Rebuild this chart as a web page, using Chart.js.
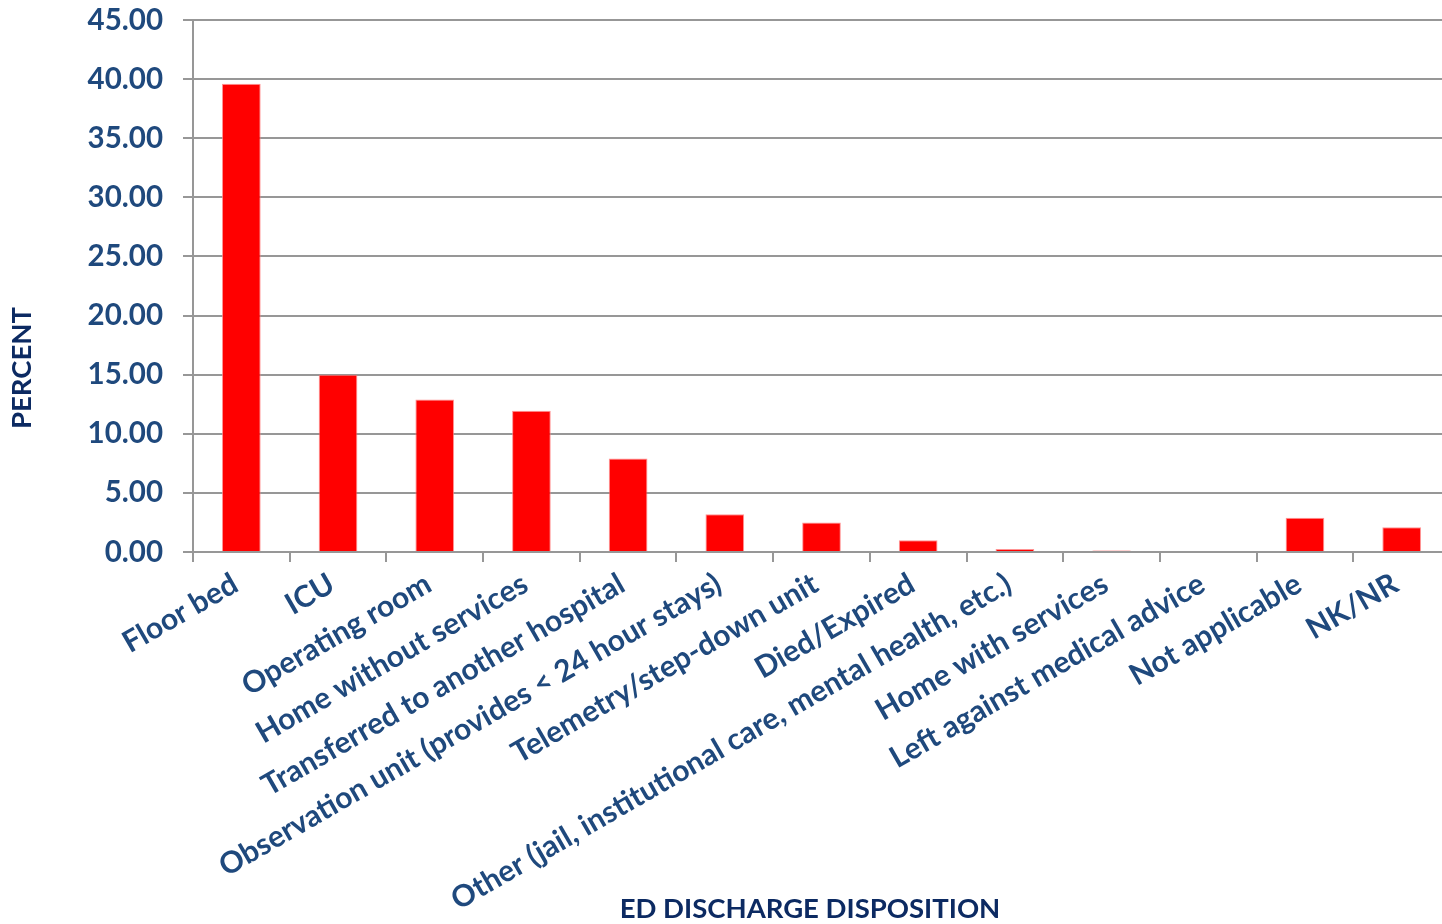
<!DOCTYPE html>
<html>
<head>
<meta charset="utf-8">
<title>ED Discharge Disposition</title>
<script src="https://cdn.jsdelivr.net/npm/chart.js@4.4.1/dist/chart.umd.min.js"></script>
<style>
  html, body { margin: 0; padding: 0; background: #fff; overflow: hidden; }
  #wrap { position: relative; width: 1450px; height: 924px; }
</style>
</head>
<body>
<div id="wrap"><canvas id="dispositionChart"></canvas></div>
<script>
const categories = [
    'Floor bed',
    'ICU',
    'Operating room',
    'Home without services',
    'Transferred to another hospital',
    'Observation unit (provides < 24 hour stays)',
    'Telemetry/step-down unit',
    'Died/Expired',
    'Other (jail, institutional care, mental health, etc.)',
    'Home with services',
    'Left against medical advice',
    'Not applicable',
    'NK/NR'
];
const percentValues = [39.6, 15.0, 12.9, 11.95, 7.9, 3.2, 2.5, 1.0, 0.25, 0.13, 0, 2.9, 2.1];

const yMin = 0;
const yMax = 45;
const yStep = 5;

const xTitle = 'ED DISCHARGE DISPOSITION';
const yTitle = 'PERCENT';

const tickColor = '#1f497d';
const titleColor = '#0c2a62';
const gridColor = '#979797';
const fontFamily = 'Lato, "Open Sans", sans-serif';

// axis titles placed where the original slide has them
const axisTitlePlugin = {
    id: 'axisTitleText',
    afterDraw(chart) {
        const ctx = chart.ctx;
        ctx.save();
        ctx.fillStyle = titleColor;
        ctx.font = 'bold 27.5px ' + fontFamily;
        ctx.textAlign = 'center';
        ctx.textBaseline = 'middle';
        ctx.fillText(xTitle, 810, 909);
        ctx.translate(22, 368);
        ctx.rotate(-Math.PI / 2);
        ctx.fillText(yTitle, 0, 0);
        ctx.restore();
    }
};

const ctx = document.getElementById('dispositionChart').getContext('2d');

const dispositionChart = new Chart(ctx, {
    type: 'bar',
    data: {
        labels: categories,
        datasets: [{
            label: 'Percent',
            data: percentValues,
            backgroundColor: '#ff0000',
            borderColor: 'rgba(255, 120, 120, 0.8)',
            borderWidth: 1,
            barPercentage: 0.4,
            categoryPercentage: 1.0
        }]
    },
    options: {
        responsive: true,
        maintainAspectRatio: false,
        animation: false,
        layout: {
            padding: { top: 20, right: 0, bottom: 0, left: 0 }
        },
        plugins: {
            legend: { display: false },
            tooltip: { enabled: false }
        },
        scales: {
            x: {
                afterFit: function(scale) {
                    scale.height = 372;
                },
                grid: {
                    display: true,
                    drawOnChartArea: false,
                    drawTicks: true,
                    tickLength: 10,
                    color: gridColor,
                    lineWidth: 2,
                    offset: true
                },
                border: {
                    display: true,
                    color: gridColor,
                    width: 2
                },
                ticks: {
                    autoSkip: false,
                    maxRotation: 30,
                    minRotation: 30,
                    padding: 4,
                    labelOffset: -6,
                    color: tickColor,
                    font: { family: fontFamily, size: 30, weight: 'bold' }
                }
            },
            y: {
                min: yMin,
                max: yMax,
                afterFit: function(scale) {
                    scale.width = 193;
                    // the label padding would otherwise push the plot top down
                    scale.paddingTop = 0;
                    scale.paddingBottom = 0;
                },
                grid: {
                    color: gridColor,
                    lineWidth: 2,
                    drawTicks: true,
                    tickLength: 10
                },
                border: {
                    display: true,
                    color: gridColor,
                    width: 2
                },
                ticks: {
                    stepSize: yStep,
                    padding: 20,
                    color: tickColor,
                    font: { family: fontFamily, size: 29.5, weight: 'bold' },
                    callback: function(value) {
                        return value.toFixed(2);
                    }
                }
            }
        }
    },
    plugins: [axisTitlePlugin]
});
</script>
</body>
</html>
